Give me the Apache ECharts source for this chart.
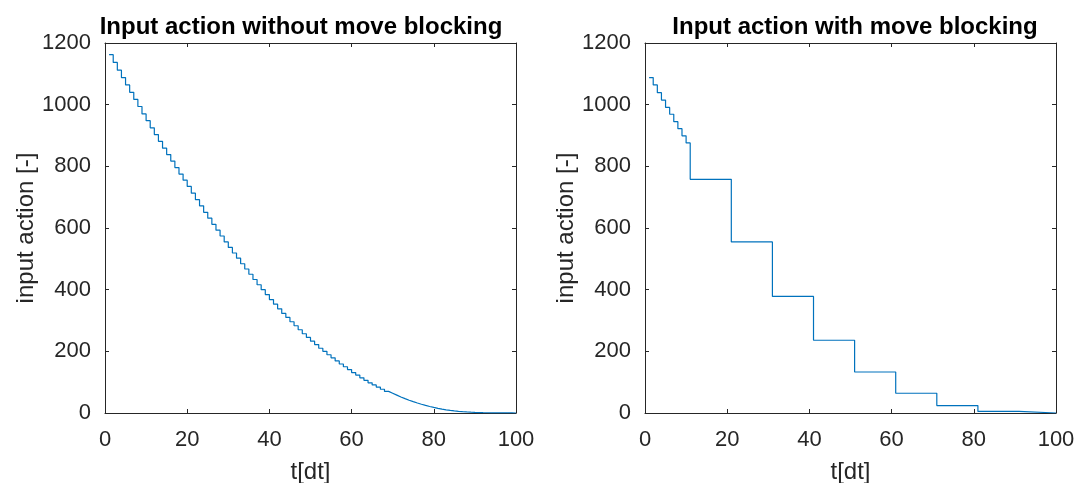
<!DOCTYPE html>
<html>
<head>
<meta charset="utf-8">
<title>Input action</title>
<script src="https://cdn.jsdelivr.net/npm/echarts@6/dist/echarts.min.js"></script>
<style>
  html, body { margin: 0; padding: 0; background: #ffffff; }
  #chart { width: 1077px; height: 483px; }
</style>
</head>
<body>
<div id="chart"></div>
<script>
// Time steps t = 1..100
const timeSteps = Array.from({ length: 100 }, (_, i) => i + 1);

// Input action per step, no move blocking
const inputNoBlocking = [
  1162, 1137, 1112, 1088, 1064, 1040, 1017, 994, 970, 948,
  925, 903, 881, 859, 838, 817, 796, 775, 755, 735,
  713, 692, 672, 651, 632, 612, 593, 574, 555, 537,
  519, 502, 484, 467, 450, 433, 416, 400, 384, 368,
  353, 338, 323, 310, 296, 283, 270, 257, 245, 233,
  222, 210, 200, 189, 179, 169, 159, 150, 141, 131,
  123, 114, 106, 98, 91, 84, 77, 70, 64, 58,
  52, 46.6, 41.5, 36.9, 32.4, 28.4, 24.6, 21.2, 18.0, 15.2,
  12.6, 10.4, 8.5, 6.9, 5.5, 4.4, 3.4, 2.6, 2.0, 1.5,
  1.1, 0.8, 0.6, 0.4, 0.3, 0.2, 0.1, 0.1, 0.05, 0
];

// Input action with move blocking: step where each block starts and its held value
const blockStart = [1, 2, 3, 4, 5, 6, 7, 8, 9, 10, 11, 21, 31, 41, 51, 61, 71, 81, 91, 100];
const blockValue = [1088, 1064, 1039, 1015, 991, 969, 945, 922, 899, 876, 758, 555, 378, 236, 133, 64, 24, 5, 0, 0];

// Axis ticks
const xTicks = { min: 0, max: 100, interval: 20 };
const yTicks = { min: 0, max: 1200, interval: 200 };

const titles = ['Input action without move blocking', 'Input action with move blocking'];
const xName = 't[dt]';
const yName = 'input action [-]';

const AXIS_COLOR = '#262626';
const LINE_COLOR = '#0072BD';
const FONT = '"Liberation Sans", Arial, Helvetica, sans-serif';

const grids = [
  { left: 105, top: 43, width: 411, height: 370, outerBoundsMode: 'none', containLabel: false },
  { left: 645, top: 43, width: 411, height: 370, outerBoundsMode: 'none', containLabel: false }
];

const tickStyle = { inside: true, length: 4, lineStyle: { color: AXIS_COLOR, width: 1 } };
const lineStyleAxis = { show: true, onZero: false, lineStyle: { color: AXIS_COLOR, width: 1 } };
const plainNumber = v => String(v);

const xAxes = [];
const yAxes = [];
grids.forEach((g, i) => {
  // bottom axis with labels
  xAxes.push({
    gridIndex: i, type: 'value', position: 'bottom',
    min: xTicks.min, max: xTicks.max, interval: xTicks.interval,
    name: xName, nameLocation: 'middle', nameGap: 47,
    nameTextStyle: { color: AXIS_COLOR, fontSize: 24, fontFamily: FONT },
    axisLine: lineStyleAxis, axisTick: tickStyle,
    axisLabel: { color: AXIS_COLOR, fontSize: 22, fontFamily: FONT, margin: 16, formatter: plainNumber },
    splitLine: { show: false }
  });
  // top axis closes the box
  xAxes.push({
    gridIndex: i, type: 'value', position: 'top',
    min: xTicks.min, max: xTicks.max, interval: xTicks.interval,
    axisLine: lineStyleAxis, axisTick: tickStyle,
    axisLabel: { show: false }, splitLine: { show: false }
  });
  // left axis with labels
  yAxes.push({
    gridIndex: i, type: 'value', position: 'left',
    min: yTicks.min, max: yTicks.max, interval: yTicks.interval,
    name: yName, nameLocation: 'middle', nameGap: 67, nameRotate: 90,
    nameTextStyle: { color: AXIS_COLOR, fontSize: 24, fontFamily: FONT },
    axisLine: lineStyleAxis, axisTick: tickStyle,
    axisLabel: { color: AXIS_COLOR, fontSize: 22, fontFamily: FONT, margin: 14, formatter: plainNumber },
    splitLine: { show: false }
  });
  // right axis closes the box
  yAxes.push({
    gridIndex: i, type: 'value', position: 'right',
    min: yTicks.min, max: yTicks.max, interval: yTicks.interval,
    axisLine: lineStyleAxis, axisTick: tickStyle,
    axisLabel: { show: false }, splitLine: { show: false }
  });
});

const seriesStyle = {
  type: 'line', step: 'end', showSymbol: false, symbol: 'none',
  lineStyle: { color: LINE_COLOR, width: 1.2 },
  itemStyle: { color: LINE_COLOR },
  silent: true, animation: false, clip: true, z: 5
};

const option = {
  animation: false,
  backgroundColor: '#ffffff',
  title: [
    { text: titles[0], left: 296, top: 10, textAlign: 'center',
      textStyle: { color: '#000', fontSize: 24, fontWeight: 'bold', fontFamily: FONT } },
    { text: titles[1], left: 850, top: 10, textAlign: 'center',
      textStyle: { color: '#000', fontSize: 24, fontWeight: 'bold', fontFamily: FONT } }
  ],
  grid: grids,
  xAxis: xAxes,
  yAxis: yAxes,
  series: [
    Object.assign({}, seriesStyle, {
      xAxisIndex: 0, yAxisIndex: 0,
      data: timeSteps.map((t, i) => [t, inputNoBlocking[i]])
    }),
    Object.assign({}, seriesStyle, {
      xAxisIndex: 2, yAxisIndex: 2,
      data: blockStart.map((t, i) => [t, blockValue[i]])
    })
  ]
};

const chart = echarts.init(document.getElementById('chart'), null, { renderer: 'canvas' });
chart.setOption(option);
</script>
</body>
</html>
